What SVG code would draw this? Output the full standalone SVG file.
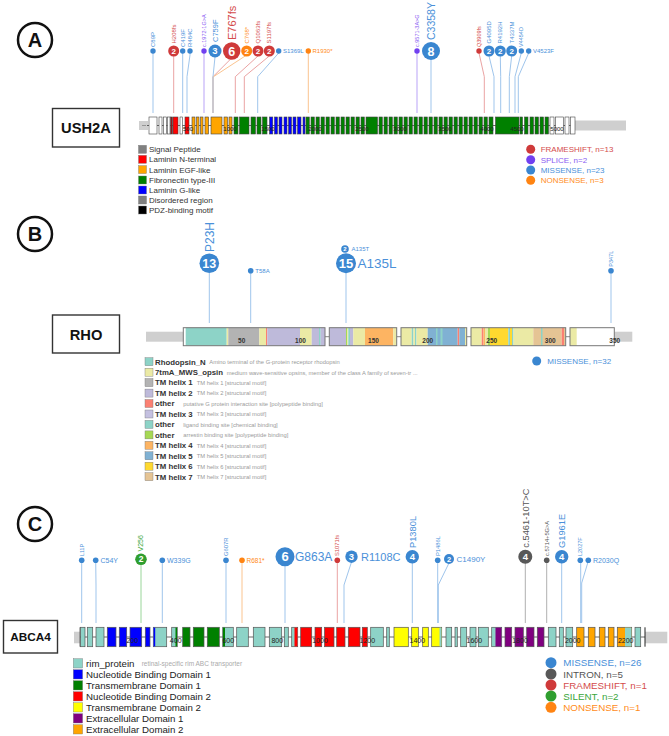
<svg xmlns="http://www.w3.org/2000/svg" width="669" height="736" viewBox="0 0 669 736">
<style>
text{font-family:"Liberation Sans",Arial,sans-serif}
.bg{fill:#fff}
.plab circle{fill:#fff;stroke:#111;stroke-width:2.5}
.plab text{font-size:20px;font-weight:bold;text-anchor:middle;fill:#111}
.gbox rect{fill:#fff;stroke:#333;stroke-width:1.4}
.gbox text{font-weight:bold;text-anchor:middle;fill:#111}
.ex{stroke:#444;stroke-width:.6}
.exc{stroke:#555;stroke-width:.7}
.ol{fill:none;stroke:#555;stroke-width:.7}
.w{fill:#fff}.r{fill:#ff0000}.o{fill:#ffa500}.g{fill:#008000}.b{fill:#0000ff}.t{fill:#8dd3c7}.y{fill:#ffff00}.p{fill:#800080}.dk{fill:#8b1a1a}
.stub{fill:#cfcfcf}
.bb{stroke:#444;stroke-width:.8}
.sc{font-size:6px;fill:#222;text-anchor:middle}
.sc2{font-size:6.5px;fill:#333;text-anchor:middle;font-weight:bold}
.sc3{font-size:7px;fill:#222;text-anchor:middle}
.st{fill:none;stroke-width:1}
.sb{stroke:#9fc5ec}.sr{stroke:#eaa3a3}.so{stroke:#fbc48f}.sp{stroke:#b9a3f7}.sg{stroke:#9ad69a}.sk{stroke:#b0b0b0}
.mb{fill:#3a86d0}.mr{fill:#cf3a3a}.mo{fill:#ff8412}.mp{fill:#7140f0}.mk{fill:#585858}.mg{fill:#2f9e2f}
.tb{fill:#4a90d9}.tr{fill:#d44c4c}.to{fill:#ff8c1a}.tp{fill:#8a5cf2}.tk{fill:#555}.tg{fill:#3aa63a}
.n{fill:#fff;font-weight:bold;text-anchor:middle}
.lg{font-size:8px;fill:#333}
.lgb{font-size:7.8px;fill:#333;font-weight:bold}
.lgd{font-size:5.8px;fill:#9a9a9a}
.lgc{font-size:9.7px;fill:#222}
.sq{stroke:#777;stroke-width:.4}
</style>
<rect class="bg" x="0" y="0" width="669" height="736"/>

<!-- Panel labels -->
<g id="label-A" class="plab"><circle cx="35" cy="40" r="17"/><text x="35" y="47">A</text></g>
<g id="label-B" class="plab"><circle cx="35" cy="234" r="17"/><text x="35" y="241">B</text></g>
<g id="label-C" class="plab"><circle cx="35" cy="524" r="17"/><text x="35" y="531">C</text></g>

<!-- Gene boxes -->
<g id="gene-USH2A" class="gbox"><rect x="52.5" y="108.5" width="67" height="38.5"/><text x="86" y="133.3" font-size="14.7">USH2A</text></g>
<g id="gene-RHO" class="gbox"><rect x="52.5" y="315" width="67" height="38"/><text x="86" y="339.5" font-size="14.7">RHO</text></g>
<g id="gene-ABCA4" class="gbox"><rect x="3.5" y="620.5" width="54" height="32.5"/><text x="30.5" y="640.5" font-size="11.8">ABCA4</text></g>

<!-- Connectors (lollipop stems) -->
<g id="connectors">
 <!-- Panel A -->
 <polyline class="st sb" points="153,51 153,113"/>
 <polyline class="st sr" points="173.7,51 173.7,113"/>
 <polyline class="st sb" points="182.7,51 182.7,113"/>
 <polyline class="st sb" points="190,51 190,55 187,76.7 187,113"/>
 <polyline class="st sp" points="204,51 204,113"/>
 <polyline class="st sr" points="231.7,58 213,76.7 213,113"/>
 <polyline class="st so" points="246.7,55 213,77 213,113"/>
 <polyline class="st sb" points="215,57 213,76.7 213,113"/>
 <polyline class="st sr" points="258,56 235.3,76.7 235.3,113"/>
 <polyline class="st sr" points="269.3,56 244.3,76.7 244.3,113"/>
 <polyline class="st sb" points="278.7,53 257.7,76.7 257.7,113"/>
 <polyline class="st so" points="308.3,51 308.3,113"/>
 <polyline class="st sp" points="417,51 417,113"/>
 <polyline class="st sb" points="431,60 431,113"/>
 <polyline class="st sr" points="479,53 484.3,76.7 484.3,113"/>
 <polyline class="st sb" points="489,56 494,76.7 494,113"/>
 <polyline class="st sb" points="500.3,56 500.7,76.7 500.7,113"/>
 <polyline class="st sb" points="511.7,56 509.3,76.7 509.3,113"/>
 <polyline class="st sb" points="521.3,53 515,76.7 515,113"/>
 <polyline class="st sb" points="528.7,53 518.3,76.7 518.3,113"/>
 <!-- Panel B -->
 <line class="st sb" x1="209.3" y1="273" x2="209.3" y2="323"/>
 <line class="st sb" x1="250.7" y1="270.7" x2="250.7" y2="323"/>
 <line class="st sb" x1="346" y1="273" x2="346" y2="323"/>
 <line class="st sb" x1="611" y1="270.7" x2="611" y2="323"/>
 <!-- Panel C -->
 <polyline class="st sb" points="81.7,560 81.7,623"/>
 <polyline class="st sb" points="95.7,560 96,585 96,623"/>
 <polyline class="st sg" points="141,562 141,623"/>
 <polyline class="st sb" points="162.3,560 162.3,623"/>
 <polyline class="st sb" points="226,560 226,623"/>
 <polyline class="st so" points="242,560 242,623"/>
 <polyline class="st sb" points="285,562 285,623"/>
 <polyline class="st sr" points="337.3,560 337.3,623"/>
 <polyline class="st sb" points="351.5,562 344,585 344,623"/>
 <polyline class="st sb" points="412.3,562 412.3,623"/>
 <polyline class="st sb" points="437.7,560 437.7,623"/>
 <polyline class="st sb" points="449,563 438.3,585 438.3,623"/>
 <polyline class="st sk" points="525.3,562 525.3,623"/>
 <polyline class="st sk" points="546.7,560 546.7,623"/>
 <polyline class="st sb" points="561.7,562 561.7,623"/>
 <polyline class="st sb" points="580.7,560 580.7,623"/>
 <polyline class="st sb" points="588.3,561 581.7,583 581.7,623"/>
</g>

<!-- USH2A track -->
<g id="track-USH2A">
 <rect class="stub" x="139" y="121" width="9" height="9"/>
 <line x1="142" y1="125.5" x2="146" y2="125.5" stroke="#888" stroke-width=".8"/>
 <rect class="stub" x="575" y="120.5" width="51" height="10"/>
 <line class="bb" x1="147" y1="125.5" x2="575" y2="125.5"/>
 <g class="ex">
  <rect class="w" x="149" y="117" width="8" height="17"/>
  <rect class="w" x="159" y="117" width="3" height="17"/>
  <rect class="w" x="163.5" y="117" width="2.8" height="17"/>
  <rect class="w" x="167.5" y="117" width="2.5" height="17"/>
  <rect class="dk" x="170.6" y="117" width="1.8" height="17"/>
  <rect class="r" x="173" y="117" width="5" height="17"/>
  <rect class="w" x="180" y="117" width="2.5" height="17"/>
  <rect class="r" x="185" y="117" width="4" height="17"/>
  <rect class="o" x="192" y="117" width="3" height="17"/>
  <rect class="o" x="196.5" y="117" width="2.5" height="17"/>
  <rect class="o" x="200.5" y="117" width="2.5" height="17"/>
  <rect class="o" x="205" y="117" width="3.5" height="17"/>
  <rect class="o" x="211" y="117" width="11" height="17"/>
  <rect class="o" x="224" y="117" width="3.5" height="17"/>
  <rect class="o" x="229" y="117" width="3" height="17"/>
  <rect class="g" x="234" y="117" width="4" height="17"/>
  <rect class="g" x="239.5" y="117" width="9.5" height="17"/>
  <rect class="g" x="251" y="117" width="4.5" height="17"/>
  <rect class="g" x="257" y="117" width="4" height="17"/>
  <rect class="g" x="262.5" y="117" width="4.5" height="17"/>
  <rect class="b" x="269.5" y="117" width="3.3" height="17"/>
  <rect class="b" x="274.5" y="117" width="3" height="17"/>
  <rect class="b" x="279" y="117" width="3" height="17"/>
  <rect class="b" x="284" y="117" width="3" height="17"/>
  <rect class="b" x="288.5" y="117" width="3" height="17"/>
  <rect class="b" x="293" y="117" width="3" height="17"/>
  <rect class="b" x="297.5" y="117" width="3.5" height="17"/>
  <rect class="b" x="303" y="117" width="2" height="17"/>
  <rect class="g" x="306" y="117" width="3.3" height="17"/>
  <rect class="g" x="311" y="117" width="3.3" height="17"/>
  <rect class="g" x="316" y="117" width="3.3" height="17"/>
  <rect class="g" x="321" y="117" width="3.3" height="17"/>
  <rect class="g" x="326" y="117" width="3.3" height="17"/>
  <rect class="g" x="331" y="117" width="3.3" height="17"/>
  <rect class="g" x="336" y="117" width="3.3" height="17"/>
  <rect class="g" x="341" y="117" width="3.3" height="17"/>
  <rect class="g" x="346" y="117" width="3.3" height="17"/>
  <rect class="g" x="351" y="117" width="3.3" height="17"/>
  <rect class="g" x="356" y="117" width="3.3" height="17"/>
  <rect class="g" x="361" y="117" width="3.3" height="17"/>
  <rect class="g" x="366" y="117" width="11.5" height="17"/>
  <rect class="g" x="379" y="117" width="3.3" height="17"/>
  <rect class="g" x="384" y="117" width="3.3" height="17"/>
  <rect class="g" x="389" y="117" width="3.3" height="17"/>
  <rect class="g" x="394" y="117" width="3.3" height="17"/>
  <rect class="g" x="399" y="117" width="3.3" height="17"/>
  <rect class="g" x="404" y="117" width="3.3" height="17"/>
  <rect class="g" x="409" y="117" width="3.3" height="17"/>
  <rect class="g" x="414" y="117" width="3.3" height="17"/>
  <rect class="g" x="419" y="117" width="3.3" height="17"/>
  <rect class="g" x="424" y="117" width="3.3" height="17"/>
  <rect class="g" x="429" y="117" width="3.3" height="17"/>
  <rect class="g" x="434" y="117" width="3.3" height="17"/>
  <rect class="g" x="439" y="117" width="3.3" height="17"/>
  <rect class="g" x="444" y="117" width="3.3" height="17"/>
  <rect class="g" x="449" y="117" width="3.3" height="17"/>
  <rect class="g" x="454" y="117" width="3.3" height="17"/>
  <rect class="g" x="459" y="117" width="3.3" height="17"/>
  <rect class="g" x="464" y="117" width="3.3" height="17"/>
  <rect class="g" x="469" y="117" width="3.3" height="17"/>
  <rect class="g" x="474" y="117" width="3.3" height="17"/>
  <rect class="g" x="479" y="117" width="3.3" height="17"/>
  <rect class="g" x="484" y="117" width="3.3" height="17"/>
  <rect class="g" x="489" y="117" width="4" height="17"/>
  <rect class="g" x="495.5" y="117" width="23.5" height="17"/>
  <rect class="g" x="520" y="117" width="2.5" height="17"/>
  <rect class="g" x="524.5" y="117" width="3.5" height="17"/>
  <rect class="g" x="530" y="117" width="3.5" height="17"/>
  <rect class="g" x="535" y="117" width="3.5" height="17"/>
  <rect class="g" x="540" y="117" width="3.5" height="17"/>
  <rect class="g" x="545" y="117" width="3.5" height="17"/>
  <rect class="w" x="550" y="117" width="4" height="17"/>
  <rect class="w" x="555.5" y="117" width="8" height="17"/>
  <rect class="w" x="565" y="117" width="4" height="17"/>
  <rect class="w" x="570.5" y="117" width="4.5" height="17"/>
 </g>
 <text class="sc" x="188" y="131">500</text>
 <text class="sc" x="230" y="131">1000</text>
 <text class="sc" x="268" y="131">1500</text>
 <text class="sc" x="315" y="131">2000</text>
 <text class="sc" x="362" y="131">2500</text>
 <text class="sc" x="400" y="131">3000</text>
 <text class="sc" x="445" y="131">3500</text>
 <text class="sc" x="487" y="131">4000</text>
 <text class="sc" x="517" y="131">4500</text>
 <text class="sc" x="557" y="131">5000</text>
</g>

<!-- Panel A lollipop heads -->
<g id="mutations-A">
 <g id="A-C89P"><circle class="mb" cx="153" cy="51" r="2.7"/><text class="tb" font-size="6" transform="translate(153,47) rotate(-90)" dy=".35em">C89P</text></g>
 <g id="A-H208fs"><circle class="mr" cx="173.7" cy="51" r="5.5"/><text class="n" x="173.7" y="53.9" font-size="8">2</text><text class="tr" font-size="6" transform="translate(173.7,43.5) rotate(-90)" dy=".35em">H208fs</text></g>
 <g id="A-C419F"><circle class="mb" cx="182.7" cy="51" r="2.7"/><text class="tb" font-size="6" transform="translate(182.7,47) rotate(-90)" dy=".35em">C419F</text></g>
 <g id="A-R484C"><circle class="mb" cx="190" cy="51" r="2.7"/><text class="tb" font-size="6" transform="translate(190,47) rotate(-90)" dy=".35em">R484C</text></g>
 <g id="A-c1972"><circle class="mp" cx="204" cy="51" r="2.7"/><text class="tp" font-size="5.5" transform="translate(204,47) rotate(-90)" dy=".35em">c.1972-1G&gt;A</text></g>
 <g id="A-C759F"><circle class="mb" cx="215" cy="51" r="6.5"/><text class="n" x="215" y="54.3" font-size="9.5">3</text><text class="tb" font-size="7.5" transform="translate(215,42) rotate(-90)" dy=".35em">C759F</text></g>
 <g id="A-E767fs"><circle class="mr" cx="231.7" cy="51" r="8.7"/><text class="n" x="231.7" y="55.5" font-size="12.5">6</text><text class="tr" font-size="11" transform="translate(231.7,40) rotate(-90)" dy=".35em">E767fs</text></g>
 <g id="A-C768x"><circle class="mo" cx="246.7" cy="51" r="5.5"/><text class="n" x="246.7" y="53.9" font-size="8">2</text><text class="to" font-size="6" transform="translate(246.7,43.5) rotate(-90)" dy=".35em">C768*</text></g>
 <g id="A-Q1063fs"><circle class="mr" cx="258" cy="51" r="5.5"/><text class="n" x="258" y="53.9" font-size="8">2</text><text class="tr" font-size="6" transform="translate(258,43.5) rotate(-90)" dy=".35em">Q1063fs</text></g>
 <g id="A-S1197fs"><circle class="mr" cx="269.3" cy="51" r="5.5"/><text class="n" x="269.3" y="53.9" font-size="8">2</text><text class="tr" font-size="6" transform="translate(269.3,43.5) rotate(-90)" dy=".35em">S1197fs</text></g>
 <g id="A-S1369L"><circle class="mb" cx="278.7" cy="51" r="2.7"/><text class="tb" font-size="6" x="283" y="51" dy=".35em">S1369L</text></g>
 <g id="A-R1930x"><circle class="mo" cx="308.3" cy="51" r="2.7"/><text class="to" font-size="6" x="312.5" y="51" dy=".35em">R1930*</text></g>
 <g id="A-c9571"><circle class="mp" cx="417" cy="51" r="2.7"/><text class="tp" font-size="5.5" transform="translate(417,47) rotate(-90)" dy=".35em">c.9571-3A&gt;G</text></g>
 <g id="A-C3358Y"><circle class="mb" cx="431" cy="51" r="9"/><text class="n" x="431" y="55.5" font-size="12.5">8</text><text class="tb" font-size="10.5" transform="translate(431,40) rotate(-90)" dy=".35em">C3358Y</text></g>
 <g id="A-Q3909fs"><circle class="mr" cx="479" cy="51" r="2.7"/><text class="tr" font-size="5.5" transform="translate(479,47) rotate(-90)" dy=".35em">Q3909fs</text></g>
 <g id="A-G4095D"><circle class="mb" cx="489" cy="51" r="5.5"/><text class="n" x="489" y="53.9" font-size="8">2</text><text class="tb" font-size="6" transform="translate(489,43.5) rotate(-90)" dy=".35em">G4095D</text></g>
 <g id="A-R4192H"><circle class="mb" cx="500.3" cy="51" r="5.5"/><text class="n" x="500.3" y="53.9" font-size="8">2</text><text class="tb" font-size="6" transform="translate(500.3,43.5) rotate(-90)" dy=".35em">R4192H</text></g>
 <g id="A-T4337M"><circle class="mb" cx="511.7" cy="51" r="5.5"/><text class="n" x="511.7" y="53.9" font-size="8">2</text><text class="tb" font-size="6" transform="translate(511.7,43.5) rotate(-90)" dy=".35em">T4337M</text></g>
 <g id="A-V4454D"><circle class="mb" cx="521.3" cy="51" r="2.7"/><text class="tb" font-size="5.5" transform="translate(521.3,47) rotate(-90)" dy=".35em">V4454D</text></g>
 <g id="A-V4523F"><circle class="mb" cx="528.7" cy="51" r="2.7"/><text class="tb" font-size="6" x="533" y="51" dy=".35em">V4523F</text></g>
</g>

<!-- Panel A legends -->
<g id="legend-A-domains">
 <rect class="sq" x="138.5" y="145.3" width="8" height="8" fill="#808080"/><text class="lg" x="149" y="152.2">Signal Peptide</text>
 <rect class="sq" x="138.5" y="155.3" width="8" height="8" fill="#ff0000"/><text class="lg" x="149" y="162.2">Laminin N-terminal</text>
 <rect class="sq" x="138.5" y="165.6" width="8" height="8" fill="#ffa500"/><text class="lg" x="149" y="172.5">Laminin EGF-like</text>
 <rect class="sq" x="138.5" y="176" width="8" height="8" fill="#008000"/><text class="lg" x="149" y="182.9">Fibronectin type-III</text>
 <rect class="sq" x="138.5" y="186" width="8" height="8" fill="#0000ff"/><text class="lg" x="149" y="192.9">Laminin G-like</text>
 <rect class="sq" x="138.5" y="196" width="8" height="8" fill="#808080"/><text class="lg" x="149" y="202.9">Disordered region</text>
 <rect class="sq" x="138.5" y="206" width="8" height="8" fill="#000000"/><text class="lg" x="149" y="212.9">PDZ-binding motif</text>
</g>
<g id="legend-A-classes">
 <circle class="mr" cx="530.7" cy="149.3" r="4.5"/><text class="tr" font-size="8" x="540.7" y="152.2">FRAMESHIFT, n=13</text>
 <circle class="mp" cx="530.7" cy="159.7" r="4.5"/><text class="tp" font-size="8" x="540.7" y="162.6">SPLICE, n=2</text>
 <circle class="mb" cx="530.7" cy="170" r="4.5"/><text class="tb" font-size="8" x="540.7" y="172.9">MISSENSE, n=23</text>
 <circle class="mo" cx="530.7" cy="180.3" r="4.5"/><text class="to" font-size="8" x="540.7" y="183.2">NONSENSE, n=3</text>
</g>

<!-- RHO track -->
<g id="track-RHO">
 <rect class="stub" x="146" y="331.7" width="37.3" height="10"/>
 <rect class="stub" x="614.3" y="331.7" width="18" height="10"/>
 <g stroke="#666" stroke-width=".8">
  <line x1="325" y1="336.7" x2="329.3" y2="336.7"/>
  <line x1="396.7" y1="336.7" x2="401" y2="336.7"/>
  <line x1="466.7" y1="336.7" x2="471" y2="336.7"/>
  <line x1="565.7" y1="336.7" x2="570" y2="336.7"/>
 </g>
 <!-- segment 1 -->
 <rect x="183.3" y="327.7" width="141.7" height="18" fill="#fff"/>
 <rect x="185.7" y="327.7" width="41" height="18" fill="#8dd3c7"/>
 <rect x="226.7" y="327.7" width="1.6" height="18" fill="#ebeaa5"/>
 <rect x="228.3" y="327.7" width="31" height="18" fill="#b3b3b3"/>
 <rect x="259.3" y="327.7" width="6.7" height="18" fill="#ebeaa5"/>
 <rect x="266" y="327.7" width="1.3" height="18" fill="#fb8072"/>
 <rect x="267.3" y="327.7" width="32.7" height="18" fill="#bebada"/>
 <rect x="300" y="327.7" width="11.7" height="18" fill="#ebeaa5"/>
 <rect x="311.7" y="327.7" width="7.3" height="18" fill="#bebada"/>
 <rect x="319" y="327.7" width="1.7" height="18" fill="#8dd3c7"/>
 <rect x="320.7" y="327.7" width="4.3" height="18" fill="#bebada"/>
 <!-- segment 2 -->
 <rect x="329.3" y="327.7" width="16.7" height="18" fill="#bebada"/>
 <rect x="346" y="327.7" width="1.3" height="18" fill="#a6d854"/>
 <rect x="347.3" y="327.7" width="1" height="18" fill="#ebeaa5"/>
 <rect x="348.3" y="327.7" width="1.7" height="18" fill="#8dd3c7"/>
 <rect x="350" y="327.7" width="3.3" height="18" fill="#bebada"/>
 <rect x="353.3" y="327.7" width="11.7" height="18" fill="#ebeaa5"/>
 <rect x="365" y="327.7" width="28.3" height="18" fill="#fdb462"/>
 <rect x="393.3" y="327.7" width="3.4" height="18" fill="#ebeaa5"/>
 <!-- segment 3 -->
 <rect x="401" y="327.7" width="10.7" height="18" fill="#ebeaa5"/>
 <rect x="411.7" y="327.7" width="1.8" height="18" fill="#8dd3c7"/>
 <rect x="413.5" y="327.7" width="1.5" height="18" fill="#ebeaa5"/>
 <rect x="415" y="327.7" width="1.5" height="18" fill="#8dd3c7"/>
 <rect x="416.5" y="327.7" width="11.2" height="18" fill="#ebeaa5"/>
 <rect x="427.7" y="327.7" width="30" height="18" fill="#80b1d3"/>
 <rect x="436" y="327.7" width="1.5" height="18" fill="#8dd3c7"/>
 <rect x="440.5" y="327.7" width="2" height="18" fill="#8dd3c7"/>
 <rect x="457.7" y="327.7" width="1.6" height="18" fill="#fb8072"/>
 <rect x="459.3" y="327.7" width="5.7" height="18" fill="#80b1d3"/>
 <rect x="465" y="327.7" width="1.7" height="18" fill="#ebeaa5"/>
 <!-- segment 4 -->
 <rect x="471" y="327.7" width="10.7" height="18" fill="#ebeaa5"/>
 <rect x="481.7" y="327.7" width="1.8" height="18" fill="#fb8072"/>
 <rect x="483.5" y="327.7" width="1.5" height="18" fill="#fdb462"/>
 <rect x="485" y="327.7" width="3" height="18" fill="#ebeaa5"/>
 <rect x="488" y="327.7" width="2" height="18" fill="#a6d854"/>
 <rect x="490" y="327.7" width="18.3" height="18" fill="#ffd92f"/>
 <rect x="508.3" y="327.7" width="1.7" height="18" fill="#8dd3c7"/>
 <rect x="510" y="327.7" width="2" height="18" fill="#ffd92f"/>
 <rect x="512" y="327.7" width="1.5" height="18" fill="#8dd3c7"/>
 <rect x="513.5" y="327.7" width="19.8" height="18" fill="#ebeaa5"/>
 <rect x="533.3" y="327.7" width="28.4" height="18" fill="#e5c494"/>
 <rect x="541" y="327.7" width="1.5" height="18" fill="#8dd3c7"/>
 <rect x="561.7" y="327.7" width="2.3" height="18" fill="#fb8072"/>
 <rect x="564" y="327.7" width="1.7" height="18" fill="#e5c494"/>
 <!-- segment 5 -->
 <rect x="570" y="327.7" width="44.3" height="18" fill="#fff"/>
 <rect x="570" y="327.7" width="6.7" height="18" fill="#ebeaa5"/>
 <g fill="none" stroke="#777" stroke-width="1">
  <rect x="183.3" y="327.7" width="141.7" height="18"/>
  <rect x="329.3" y="327.7" width="67.4" height="18"/>
  <rect x="401" y="327.7" width="65.7" height="18"/>
  <rect x="471" y="327.7" width="94.7" height="18"/>
  <rect x="570" y="327.7" width="44.3" height="18"/>
 </g>
 <text class="sc2" x="241.7" y="342.5">50</text>
 <text class="sc2" x="300.5" y="342.5">100</text>
 <text class="sc2" x="373.5" y="342.5">150</text>
 <text class="sc2" x="427.7" y="342.5">200</text>
 <text class="sc2" x="491.7" y="342.5">250</text>
 <text class="sc2" x="550.3" y="342.5">300</text>
 <text class="sc2" x="614.7" y="342.5">350</text>
</g>

<!-- Panel B lollipop heads -->
<g id="mutations-B">
 <g id="B-P23H"><circle class="mb" cx="209.3" cy="263.3" r="9.8"/><text class="n" x="209.3" y="267.8" font-size="12.5">13</text><text class="tb" font-size="12" transform="translate(209.3,252) rotate(-90)" dy=".35em">P23H</text></g>
 <g id="B-T58A"><circle class="mb" cx="250.7" cy="270.7" r="2.8"/><text class="tb" font-size="6" x="255.3" y="270.7" dy=".35em">T58A</text></g>
 <g id="B-A135T"><circle class="mb" cx="345" cy="249" r="3.8"/><text class="n" x="345" y="251.1" font-size="6">2</text><text class="tb" font-size="6" x="351.5" y="249" dy=".35em">A135T</text></g>
 <g id="B-A135L"><circle class="mb" cx="346" cy="263.3" r="10"/><text class="n" x="346" y="268" font-size="13">15</text><text class="tb" font-size="13.5" x="357.5" y="263.3" dy=".35em">A135L</text></g>
 <g id="B-P347L"><circle class="mb" cx="611" cy="270.7" r="2.8"/><text class="tb" font-size="5.5" transform="translate(611,266.7) rotate(-90)" dy=".35em">P347L</text></g>
</g>

<!-- Panel B legends -->
<g id="legend-B-domains">
 <rect class="sq" x="145" y="357.7" width="8" height="8" fill="#8dd3c7"/><text class="lgb" x="155" y="364.5">Rhodopsin_N</text><text class="lgd" x="209.3" y="364">Amino terminal of the G-protein receptor rhodopsin</text>
 <rect class="sq" x="145" y="368.2" width="8" height="8" fill="#ebeaa5"/><text class="lgb" x="155" y="375">7tmA_MWS_opsin</text><text class="lgd" x="226.7" y="374.5">medium wave-sensitive opsins, member of the class A family of seven-tr ...</text>
 <rect class="sq" x="145" y="378.6" width="8" height="8" fill="#b3b3b3"/><text class="lgb" x="155" y="385.4">TM helix 1</text><text class="lgd" x="196.7" y="384.9">TM helix 1 [structural motif]</text>
 <rect class="sq" x="145" y="389.1" width="8" height="8" fill="#bebada"/><text class="lgb" x="155" y="395.9">TM helix 2</text><text class="lgd" x="196.7" y="395.4">TM helix 2 [structural motif]</text>
 <rect class="sq" x="145" y="399.5" width="8" height="8" fill="#fb8072"/><text class="lgb" x="155" y="406.3">other</text><text class="lgd" x="183.3" y="405.8">putative G protein interaction site [polypeptide binding]</text>
 <rect class="sq" x="145" y="410" width="8" height="8" fill="#c4c0e0"/><text class="lgb" x="155" y="416.8">TM helix 3</text><text class="lgd" x="196.7" y="416.3">TM helix 3 [structural motif]</text>
 <rect class="sq" x="145" y="420.4" width="8" height="8" fill="#8dd3c7"/><text class="lgb" x="155" y="427.2">other</text><text class="lgd" x="183.3" y="426.7">ligand binding site [chemical binding]</text>
 <rect class="sq" x="145" y="430.9" width="8" height="8" fill="#a6d854"/><text class="lgb" x="155" y="437.7">other</text><text class="lgd" x="183.3" y="437.2">arrestin binding site [polypeptide binding]</text>
 <rect class="sq" x="145" y="441.3" width="8" height="8" fill="#fdb462"/><text class="lgb" x="155" y="448.1">TM helix 4</text><text class="lgd" x="196.7" y="447.6">TM helix 4 [structural motif]</text>
 <rect class="sq" x="145" y="451.8" width="8" height="8" fill="#80b1d3"/><text class="lgb" x="155" y="458.6">TM helix 5</text><text class="lgd" x="196.7" y="458.1">TM helix 5 [structural motif]</text>
 <rect class="sq" x="145" y="462.2" width="8" height="8" fill="#ffd92f"/><text class="lgb" x="155" y="469">TM helix 6</text><text class="lgd" x="196.7" y="468.5">TM helix 6 [structural motif]</text>
 <rect class="sq" x="145" y="472.7" width="8" height="8" fill="#e5c494"/><text class="lgb" x="155" y="479.5">TM helix 7</text><text class="lgd" x="196.7" y="479">TM helix 7 [structural motif]</text>
</g>
<g id="legend-B-classes">
 <circle class="mb" cx="536.7" cy="361" r="4.5"/><text class="tb" font-size="8" x="547.3" y="363.9">MISSENSE, n=32</text>
</g>

<!-- ABCA4 track -->
<g id="track-ABCA4">
 <rect class="stub" x="74" y="631.7" width="6" height="11.6"/>
 <rect class="stub" x="645" y="631.7" width="22.3" height="11.6"/>
 <line class="bb" x1="80" y1="637" x2="645" y2="637"/>
 <line x1="80" y1="627.3" x2="80" y2="646.7" stroke="#444" stroke-width=".8"/>
 <line x1="645" y1="627.3" x2="645" y2="646.7" stroke="#222" stroke-width="1"/>
 <g class="exc">
  <rect class="t" x="80.6" y="627.3" width="4.4" height="19.4"/>
  <rect class="t" x="87.3" y="627.3" width="5.4" height="19.4"/>
  <rect class="t" x="96" y="627.3" width="8" height="19.4"/>
  <rect class="b" x="107.3" y="627.3" width="8.7" height="19.4"/>
  <rect class="b" x="119.3" y="627.3" width="7.4" height="19.4"/>
  <rect class="b" x="130" y="627.3" width="11.7" height="19.4"/>
  <rect class="b" x="145.3" y="627.3" width="4.7" height="19.4"/>
  <rect class="t" x="153.3" y="627.3" width="13.4" height="19.4"/>
  <rect class="t" x="171.7" y="627.3" width="5.6" height="19.4"/>
  <rect class="g" x="182.7" y="627.3" width="7.3" height="19.4"/>
  <rect class="g" x="193.3" y="627.3" width="10.7" height="19.4"/>
  <rect class="g" x="207.3" y="627.3" width="12" height="19.4"/>
  <rect class="t" x="222.7" y="627.3" width="10.6" height="19.4"/>
  <rect class="t" x="236.7" y="627.3" width="11.6" height="19.4"/>
  <rect class="t" x="253.3" y="627.3" width="11.7" height="19.4"/>
  <rect class="t" x="269.3" y="627.3" width="12.4" height="19.4"/>
  <rect class="t" x="284.3" y="627.3" width="4" height="19.4"/>
  <rect class="t" x="291.7" y="627.3" width="6" height="19.4"/>
  <rect class="r" x="300.7" y="627.3" width="11" height="19.4"/>
  <rect class="r" x="315" y="627.3" width="6.7" height="19.4"/>
  <rect class="r" x="324.5" y="627.3" width="9.5" height="19.4"/>
  <rect class="r" x="336.7" y="627.3" width="8.3" height="19.4"/>
  <rect class="r" x="348.3" y="627.3" width="11.7" height="19.4"/>
  <rect class="r" x="362.3" y="627.3" width="5" height="19.4"/>
  <rect class="t" x="370.7" y="627.3" width="12.6" height="19.4"/>
  <rect class="t" x="386.7" y="627.3" width="2.6" height="19.4"/>
  <rect class="y" x="394" y="627.3" width="14.3" height="19.4"/>
  <rect class="y" x="411.7" y="627.3" width="6.6" height="19.4"/>
  <rect class="y" x="422.7" y="627.3" width="5.6" height="19.4"/>
  <rect class="y" x="431.7" y="627.3" width="10" height="19.4"/>
  <rect class="t" x="446" y="627.3" width="5.7" height="19.4"/>
  <rect class="t" x="455" y="627.3" width="2.3" height="19.4"/>
  <rect class="t" x="460.7" y="627.3" width="6" height="19.4"/>
  <rect class="t" x="470" y="627.3" width="6" height="19.4"/>
  <rect class="t" x="478.3" y="627.3" width="10" height="19.4"/>
  <rect class="t" x="491.7" y="627.3" width="10" height="19.4"/>
  <rect class="p" x="505" y="627.3" width="6.7" height="19.4"/>
  <rect class="p" x="515" y="627.3" width="8.3" height="19.4"/>
  <rect class="p" x="526.7" y="627.3" width="7.3" height="19.4"/>
  <rect class="p" x="537.3" y="627.3" width="6.7" height="19.4"/>
  <rect class="t" x="548.3" y="627.3" width="7.7" height="19.4"/>
  <rect class="t" x="559.3" y="627.3" width="4" height="19.4"/>
  <rect class="t" x="566" y="627.3" width="6.7" height="19.4"/>
  <rect class="o" x="576.7" y="627.3" width="7.3" height="19.4"/>
  <rect class="o" x="588.3" y="627.3" width="6.7" height="19.4"/>
  <rect class="o" x="599.3" y="627.3" width="5.7" height="19.4"/>
  <rect class="o" x="608.3" y="627.3" width="5.7" height="19.4"/>
  <rect class="o" x="617.3" y="627.3" width="14.4" height="19.4"/>
  <rect class="t" x="635" y="627.3" width="5.7" height="19.4"/>
 </g>
 <g>
  <rect class="b" x="153.6" y="627.6" width="1.6" height="18.8"/>
  <rect class="g" x="175.5" y="627.6" width="1.5" height="18.8"/>
  <rect class="g" x="223" y="627.6" width="2" height="18.8"/>
  <rect class="r" x="294.5" y="627.6" width="2.9" height="18.8"/>
  <rect class="t" x="439.5" y="627.6" width="1.9" height="18.8"/>
  <rect class="p" x="495.5" y="627.6" width="5.9" height="18.8"/>
  <rect class="t" x="625" y="627.6" width="6.4" height="18.8"/>
 </g>
 <text class="sc3" x="132.3" y="643">200</text>
 <text class="sc3" x="175.7" y="643">400</text>
 <text class="sc3" x="228.3" y="643">600</text>
 <text class="sc3" x="277.3" y="643">800</text>
 <text class="sc3" x="320" y="643">1000</text>
 <text class="sc3" x="367.3" y="643">1200</text>
 <text class="sc3" x="417.3" y="643">1400</text>
 <text class="sc3" x="474.3" y="643">1600</text>
 <text class="sc3" x="520" y="643">1800</text>
 <text class="sc3" x="572.7" y="643">2000</text>
 <text class="sc3" x="625.7" y="643">2200</text>
</g>

<!-- Panel C lollipop heads -->
<g id="mutations-C">
 <g id="C-L11P"><circle class="mb" cx="81.7" cy="560.3" r="2.8"/><text class="tb" font-size="5.3" transform="translate(81.7,556) rotate(-90)" dy=".35em">L11P</text></g>
 <g id="C-C54Y"><circle class="mb" cx="95.7" cy="560.3" r="2.8"/><text class="tb" font-size="7" x="100.5" y="560.3" dy=".35em">C54Y</text></g>
 <g id="C-V256"><circle class="mg" cx="141" cy="559.3" r="5.8"/><text class="n" x="141" y="562.4" font-size="8.5">2</text><text class="tg" font-size="7" transform="translate(141,551.5) rotate(-90)" dy=".35em">V256</text></g>
 <g id="C-W339G"><circle class="mb" cx="162.3" cy="560.3" r="2.8"/><text class="tb" font-size="7" x="167" y="560.3" dy=".35em">W339G</text></g>
 <g id="C-G607R"><circle class="mb" cx="226" cy="560.3" r="2.8"/><text class="tb" font-size="5.8" transform="translate(226,556) rotate(-90)" dy=".35em">G607R</text></g>
 <g id="C-R681x"><circle class="mo" cx="242" cy="560.3" r="2.8"/><text class="to" font-size="6.5" x="246.5" y="560.3" dy=".35em">R681*</text></g>
 <g id="C-G863A"><circle class="mb" cx="285" cy="556.7" r="9.5"/><text class="n" x="285" y="561.3" font-size="13">6</text><text class="tb" font-size="12" x="295" y="556.7" dy=".35em">G863A</text></g>
 <g id="C-S1071fs"><circle class="mr" cx="337.3" cy="560.3" r="2.8"/><text class="tr" font-size="5.8" transform="translate(337.3,556) rotate(-90)" dy=".35em">S1071fs</text></g>
 <g id="C-R1108C"><circle class="mb" cx="351.5" cy="556.7" r="6.2"/><text class="n" x="351.5" y="560" font-size="9.5">3</text><text class="tb" font-size="11" x="361" y="556.7" dy=".35em">R1108C</text></g>
 <g id="C-P1380L"><circle class="mb" cx="412.3" cy="556.7" r="6.7"/><text class="n" x="412.3" y="560.1" font-size="9.5">4</text><text class="tb" font-size="9.3" transform="translate(412.3,548) rotate(-90)" dy=".35em">P1380L</text></g>
 <g id="C-P1486L"><circle class="mb" cx="437.7" cy="560.3" r="2.8"/><text class="tb" font-size="5.8" transform="translate(437.7,556) rotate(-90)" dy=".35em">P1486L</text></g>
 <g id="C-C1490Y"><circle class="mb" cx="449" cy="559" r="5"/><text class="n" x="449" y="561.8" font-size="7.5">2</text><text class="tb" font-size="8" x="456.5" y="559" dy=".35em">C1490Y</text></g>
 <g id="C-c5461"><circle class="mk" cx="525.3" cy="556.7" r="7"/><text class="n" x="525.3" y="560.1" font-size="9.5">4</text><text class="tk" font-size="9.3" transform="translate(525.3,547.7) rotate(-90)" dy=".35em">c.5461-10T&gt;C</text></g>
 <g id="C-c5714"><circle class="mk" cx="546.7" cy="560.3" r="2.8"/><text class="tk" font-size="5.7" transform="translate(546.7,556) rotate(-90)" dy=".35em">c.5714+5G&gt;A</text></g>
 <g id="C-G1961E"><circle class="mb" cx="561.7" cy="556.7" r="6.7"/><text class="n" x="561.7" y="560.1" font-size="9.5">4</text><text class="tb" font-size="9.3" transform="translate(561.7,548) rotate(-90)" dy=".35em">G1961E</text></g>
 <g id="C-L2027F"><circle class="mb" cx="580.3" cy="560.3" r="2.8"/><text class="tb" font-size="5.5" transform="translate(580.3,556) rotate(-90)" dy=".35em">L2027F</text></g>
 <g id="C-R2030Q"><circle class="mb" cx="588.3" cy="560.3" r="2.8"/><text class="tb" font-size="7" x="593" y="560.3" dy=".35em">R2030Q</text></g>
</g>

<!-- Panel C legends -->
<g id="legend-C-domains">
 <rect class="sq" x="73.3" y="658.7" width="9.3" height="9.3" fill="#8dd3c7"/><text class="lgc" x="86" y="666.8">rim_protein</text><text font-size="6.5" fill="#aaa" x="141.7" y="666.3">retinal-specific rim ABC transporter</text>
 <rect class="sq" x="73.3" y="669.7" width="9.3" height="9.3" fill="#0000ff"/><text class="lgc" x="86" y="677.8">Nucleotide Binding Domain 1</text>
 <rect class="sq" x="73.3" y="680.7" width="9.3" height="9.3" fill="#008000"/><text class="lgc" x="86" y="688.8">Transmembrane Domain 1</text>
 <rect class="sq" x="73.3" y="691.7" width="9.3" height="9.3" fill="#ff0000"/><text class="lgc" x="86" y="699.8">Nucleotide Binding Domain 2</text>
 <rect class="sq" x="73.3" y="702.7" width="9.3" height="9.3" fill="#ffff00"/><text class="lgc" x="86" y="710.8">Transmembrane Domain 2</text>
 <rect class="sq" x="73.3" y="713.7" width="9.3" height="9.3" fill="#800080"/><text class="lgc" x="86" y="721.8">Extracellular Domain 1</text>
 <rect class="sq" x="73.3" y="724.7" width="9.3" height="9.3" fill="#ffa500"/><text class="lgc" x="86" y="732.8">Extracellular Domain 2</text>
</g>
<g id="legend-C-classes">
 <circle class="mb" cx="551" cy="662.7" r="5.5"/><text class="tb" font-size="9.8" x="563.3" y="666.2">MISSENSE, n=26</text>
 <circle class="mk" cx="551" cy="674" r="5.5"/><text class="tk" font-size="9.8" x="563.3" y="677.5">INTRON, n=5</text>
 <circle class="mr" cx="551" cy="685" r="5.5"/><text class="tr" font-size="9.8" x="563.3" y="688.5">FRAMESHIFT, n=1</text>
 <circle class="mg" cx="551" cy="696" r="5.5"/><text class="tg" font-size="9.8" x="563.3" y="699.5">SILENT, n=2</text>
 <circle class="mo" cx="551" cy="707.3" r="5.5"/><text class="to" font-size="9.8" x="563.3" y="710.8">NONSENSE, n=1</text>
</g>
</svg>
